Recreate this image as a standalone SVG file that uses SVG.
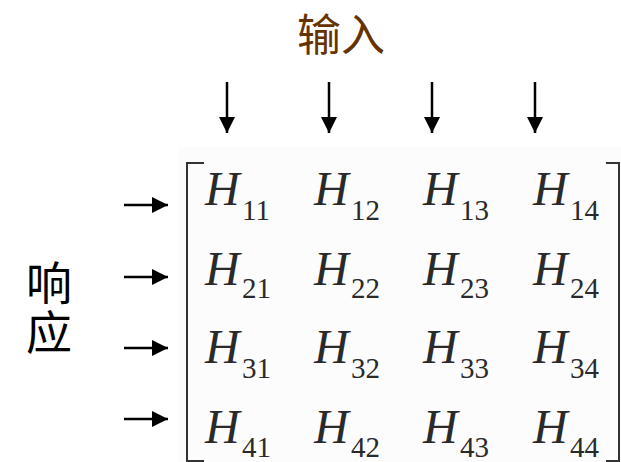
<svg xmlns="http://www.w3.org/2000/svg" width="621" height="462" viewBox="0 0 621 462">
<defs>
<marker id="ah" viewBox="0 0 16 16" refX="16" refY="8" markerWidth="16" markerHeight="16" markerUnits="userSpaceOnUse" orient="auto">
<path d="M0,0 L16,8 L0,16 Z" fill="#000"/>
</marker>
<style>
.conn{stroke:#000;stroke-width:2.5;fill:none;marker-end:url(#ah)}
.br{stroke:#333;stroke-width:2;fill:none}
.H{font-family:"Liberation Serif",serif;font-style:italic;font-size:48px;fill:#2a2a2a}
.s{font-family:"Liberation Serif",serif;font-size:29px;fill:#2a2a2a}
.cjk{font-family:"Noto Sans CJK SC",sans-serif}
</style>
</defs>
<rect width="621" height="462" fill="#fff"/>
<rect x="178" y="147" width="443" height="315" fill="#fcfcfc"/>
<g id="title-input"><text class="cjk" x="341" y="51" font-size="44" fill="#663300" text-anchor="middle">输入</text></g>
<g id="title-response">
<text class="cjk" x="49" y="260" font-size="46" fill="#000" writing-mode="vertical-rl" letter-spacing="3">响应</text>
</g>
<g id="connectors">
<line class="conn" x1="227" y1="82" x2="227" y2="133"/>
<line class="conn" x1="329" y1="82" x2="329" y2="133"/>
<line class="conn" x1="432" y1="82" x2="432" y2="133"/>
<line class="conn" x1="535" y1="82" x2="535" y2="133"/>
<line class="conn" x1="124" y1="205" x2="168" y2="205"/>
<line class="conn" x1="124" y1="277" x2="168" y2="277"/>
<line class="conn" x1="124" y1="348" x2="168" y2="348"/>
<line class="conn" x1="124" y1="419" x2="168" y2="419"/>
</g>
<g id="matrix">
<path class="br" d="M204,163 H187 V461 H204"/>
<path class="br" d="M606,163 H619 V461 H606"/>
<g id="r1">
<text class="H" x="205" y="205">H</text><text class="s" x="242" y="220">11</text>
<text class="H" x="314" y="205">H</text><text class="s" x="351" y="220">12</text>
<text class="H" x="423" y="205">H</text><text class="s" x="460" y="220">13</text>
<text class="H" x="533" y="205">H</text><text class="s" x="570" y="220">14</text>
</g>
<g id="r2">
<text class="H" x="205" y="285">H</text><text class="s" x="242" y="298">21</text>
<text class="H" x="314" y="285">H</text><text class="s" x="351" y="298">22</text>
<text class="H" x="423" y="285">H</text><text class="s" x="460" y="298">23</text>
<text class="H" x="533" y="285">H</text><text class="s" x="570" y="298">24</text>
</g>
<g id="r3">
<text class="H" x="205" y="363">H</text><text class="s" x="242" y="378">31</text>
<text class="H" x="314" y="363">H</text><text class="s" x="351" y="378">32</text>
<text class="H" x="423" y="363">H</text><text class="s" x="460" y="378">33</text>
<text class="H" x="533" y="363">H</text><text class="s" x="570" y="378">34</text>
</g>
<g id="r4">
<text class="H" x="205" y="443">H</text><text class="s" x="242" y="457">41</text>
<text class="H" x="314" y="443">H</text><text class="s" x="351" y="457">42</text>
<text class="H" x="423" y="443">H</text><text class="s" x="460" y="457">43</text>
<text class="H" x="533" y="443">H</text><text class="s" x="570" y="457">44</text>
</g>
</g>
</svg>
